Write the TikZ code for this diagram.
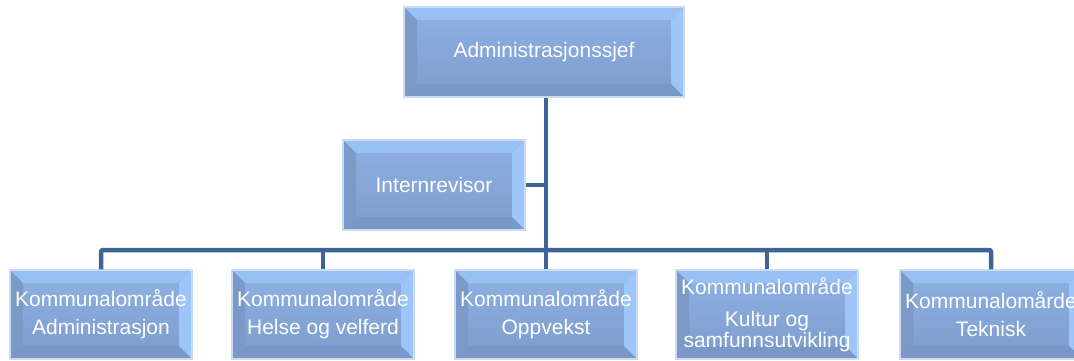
\documentclass[tikz,border=0pt]{standalone}
\usepackage{fontspec}
\setmainfont{Liberation Sans}
\usetikzlibrary{calc}

\definecolor{facetop}{HTML}{8CAEE0}
\definecolor{facebot}{HTML}{7F9FD0}
\definecolor{bevtop}{HTML}{97C0F5}
\definecolor{bevleft}{HTML}{7C9AC8}
\definecolor{bevright}{HTML}{9CC6FA}
\definecolor{bevbot}{HTML}{7A98C6}
\definecolor{boxrim}{HTML}{C9DCF2}
\definecolor{linkblue}{HTML}{3E6496}

\newcommand{\bevw}{13pt}

\tikzset{
  bevelbox/.style={
    rectangle, inner sep=0pt, minimum width=182pt, minimum height=89pt,
    fill=facebot, draw=boxrim, line width=1.5pt,
    text=white, font=\fontsize{21}{24}\selectfont, align=center,
    path picture={
      \coordinate (pa) at (path picture bounding box.north west);
      \coordinate (pb) at (path picture bounding box.north east);
      \coordinate (pc) at (path picture bounding box.south east);
      \coordinate (pd) at (path picture bounding box.south west);
      \coordinate (qa) at ($(pa)+(\bevw,-\bevw)$);
      \coordinate (qb) at ($(pb)+(-\bevw,-\bevw)$);
      \coordinate (qc) at ($(pc)+(-\bevw,\bevw)$);
      \coordinate (qd) at ($(pd)+(\bevw,\bevw)$);
      \shade[top color=facetop, bottom color=facebot] (qa) rectangle (qc);
      \fill[bevtop]   (pa) -- (pb) -- (qb) -- (qa) -- cycle;
      \fill[bevleft]  (pa) -- (qa) -- (qd) -- (pd) -- cycle;
      \fill[bevright] (pb) -- (pc) -- (qc) -- (qb) -- cycle;
      \fill[bevbot]   (pd) -- (qd) -- (qc) -- (pc) -- cycle;
    }},
  link/.style={draw=linkblue, line width=4.5pt, rounded corners=2pt}
}

\begin{document}
\begin{tikzpicture}[x=1pt, y=-1pt]
  \clip (0,0) rectangle (1074,360);

  % top level
  \node[bevelbox, minimum width=280pt, minimum height=90pt] (chief) at (544,52)
    {Administrasjonssjef};
  \node[bevelbox, minimum height=90pt] (audit) at (434,185) {Internrevisor};

  % hub of the vertical spine on the horizontal bar
  \coordinate (hub) at (546,250);

  % departments
  \node[bevelbox] (d1) at (101,314.5) {Kommunalområde\\[4pt]Administrasjon};
  \node[bevelbox] (d2) at (323,314.5) {Kommunalområde\\[4pt]Helse og velferd};
  \node[bevelbox] (d3) at (546,314.5) {Kommunalområde\\[4pt]Oppvekst};
  \node[bevelbox, font=\fontsize{21}{21}\selectfont] (d4) at (767,314.5)
    {Kommunalområde\\[11pt]Kultur og\\samfunnsutvikling};
  \node[bevelbox] (d5) at (991,314.5) {Kommunalomårde\\[4pt]Teknisk};

  % connectors
  \draw[link] (hub |- chief.south) -- (hub);
  \draw[link] (audit.east) -- (audit.east -| hub);
  \draw[link] (d1.north) |- (d5.north |- hub) -- (d5.north);
  \draw[link] (d2.north) -- (d2.north |- hub);
  \draw[link] (d3.north) -- (d3.north |- hub);
  \draw[link] (d4.north) -- (d4.north |- hub);
\end{tikzpicture}
\end{document}
